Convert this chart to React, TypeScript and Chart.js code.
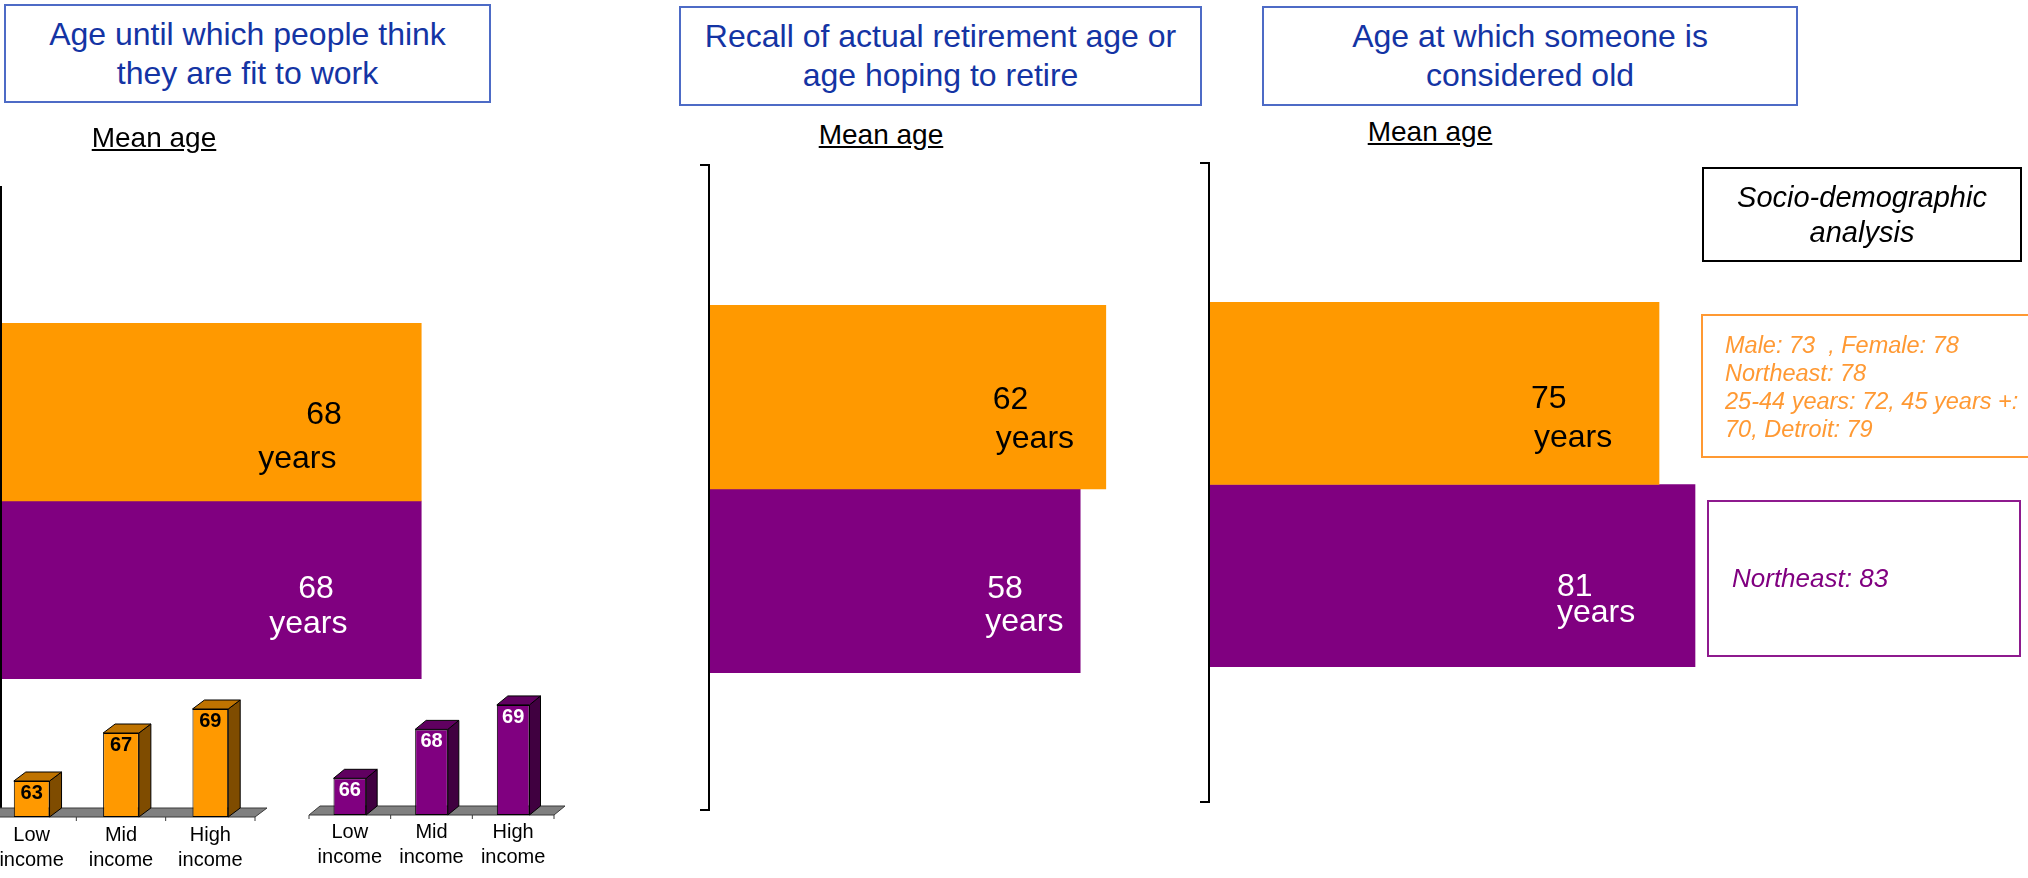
import React, { useEffect, useRef } from 'react';
import { Chart, registerables } from 'chart.js';

Chart.register(...registerables);

const FONT = '"Liberation Sans", Arial, Helvetica, sans-serif';
Chart.defaults.font.family = FONT;

// ---------------- data ----------------
const seriesNames = ['Group 1', 'Group 2'];
const panelTitles = [
  ['Age until which people think', 'they are fit to work'],
  ['Recall of actual retirement age or', 'age hoping to retire'],
  ['Age at which someone is', 'considered old'],
];
const axisCaption = 'Mean age';
const unitLabel = 'years';
const fitToWorkAge = [68, 68];
const retirementAge = [62, 58];
const consideredOldAge = [75, 81];
const incomeCategories = [['Low', 'income'], ['Mid', 'income'], ['High', 'income']];
const incomeFitGroup1 = [63, 67, 69];
const incomeFitGroup2 = [66, 68, 69];
const socioHeading = ['Socio-demographic', 'analysis'];
const socioGroup1Lines = ['Male: 73  , Female: 78', 'Northeast: 78', '25-44 years: 72, 45 years +:', '70, Detroit: 79'];
const socioGroup2Lines = ['Northeast: 83'];

// ---------------- styles ----------------
const ORANGE = '#FF9900';
const PURPLE = '#800080';
const TITLE_BLUE = '#1434A4';
const TITLE_BORDER = '#4d6bc6';

type Box = { left: number; top: number; width: number; height: number };
type LabelPos = { nx: number; ny: number; yx: number; yy: number };

function paddingFor(canvas: Box, plot: Box) {
  return {
    left: plot.left - canvas.left,
    top: plot.top - canvas.top,
    right: canvas.left + canvas.width - (plot.left + plot.width),
    bottom: canvas.top + canvas.height - (plot.top + plot.height),
  };
}

function MeanBars(props: {
  values: number[];
  canvas: Box;
  plot: Box;
  bracket: { up: number; down: number };
  labelPos: LabelPos[];
}) {
  const ref = useRef<HTMLCanvasElement>(null);
  useEffect(() => {
    const { values, canvas, plot, bracket, labelPos } = props;
    const bracketPlugin = {
      id: 'bracket',
      afterDatasetsDraw(chart: any) {
        const { ctx, chartArea: a } = chart;
        ctx.save();
        ctx.strokeStyle = '#000';
        ctx.lineWidth = 2;
        ctx.beginPath();
        ctx.moveTo(a.left - 9, a.top - bracket.up);
        ctx.lineTo(a.left, a.top - bracket.up);
        ctx.lineTo(a.left, a.bottom + bracket.down);
        ctx.lineTo(a.left - 9, a.bottom + bracket.down);
        ctx.stroke();
        ctx.restore();
      },
    };
    const valuePlugin = {
      id: 'valueLabels',
      afterDatasetsDraw(chart: any) {
        const ctx = chart.ctx;
        chart.data.datasets.forEach((ds: any, i: number) => {
          const bar = chart.getDatasetMeta(i).data[0];
          const p = labelPos[i];
          ctx.save();
          ctx.font = `32px ${FONT}`;
          ctx.fillStyle = i === 0 ? '#000000' : '#ffffff';
          ctx.textAlign = 'left';
          ctx.textBaseline = 'alphabetic';
          ctx.fillText(String(ds.data[0]), bar.x + p.nx, bar.y + p.ny);
          ctx.fillText(unitLabel, bar.x + p.yx, bar.y + p.yy);
          ctx.restore();
        });
      },
    };
    const chart = new Chart(ref.current!, {
      type: 'bar',
      data: {
        labels: [axisCaption],
        datasets: [
          { label: seriesNames[0], data: [values[0]], backgroundColor: ORANGE, borderWidth: 0 },
          { label: seriesNames[1], data: [values[1]], backgroundColor: PURPLE, borderWidth: 0 },
        ],
      },
      options: {
        indexAxis: 'y',
        responsive: false,
        animation: false,
        devicePixelRatio: 1,
        layout: { padding: paddingFor(canvas, plot) },
        datasets: { bar: { categoryPercentage: 1, barPercentage: 1 } },
        scales: {
          x: { display: false, min: 0, max: 100 },
          y: { display: false },
        },
        plugins: { legend: { display: false }, tooltip: { enabled: false } },
      },
      plugins: [bracketPlugin, valuePlugin],
    } as any);
    return () => chart.destroy();
  }, []);
  const c = props.canvas;
  return (
    <canvas
      ref={ref}
      width={c.width}
      height={c.height}
      style={{ position: 'absolute', left: c.left, top: c.top, width: c.width, height: c.height }}
    />
  );
}

function IncomeBars(props: {
  values: number[];
  canvas: Box;
  plot: Box;
  min: number;
  max: number;
  depth: { dx: number; dy: number };
  front: string;
  side: string;
  topFace: string;
  valueColor: string;
  tickPadding: number;
}) {
  const ref = useRef<HTMLCanvasElement>(null);
  useEffect(() => {
    const { values, canvas, plot, min, max, depth, front, side, topFace, valueColor, tickPadding } = props;
    const { dx, dy } = depth;
    const axisHeight = canvas.top + canvas.height - (plot.top + plot.height);
    const cubePlugin = {
      id: 'cube3d',
      beforeDatasetsDraw(chart: any) {
        const { ctx, chartArea: a } = chart;
        const n = chart.data.labels.length;
        ctx.save();
        ctx.fillStyle = '#808080';
        ctx.strokeStyle = '#3a3a3a';
        ctx.lineWidth = 1;
        ctx.beginPath();
        ctx.moveTo(a.left, a.bottom);
        ctx.lineTo(a.right, a.bottom);
        ctx.lineTo(a.right + dx, a.bottom - dy);
        ctx.lineTo(a.left + dx, a.bottom - dy);
        ctx.closePath();
        ctx.fill();
        ctx.stroke();
        for (let i = 0; i <= n; i++) {
          const px = a.left + ((a.right - a.left) * i) / n;
          ctx.beginPath();
          ctx.moveTo(px, a.bottom);
          ctx.lineTo(px, a.bottom + 4);
          ctx.stroke();
        }
        ctx.restore();
      },
      afterDatasetsDraw(chart: any) {
        const ctx = chart.ctx;
        const a = chart.chartArea;
        const meta = chart.getDatasetMeta(0);
        meta.data.forEach((el: any, i: number) => {
          const { x, y, width } = el.getProps(['x', 'y', 'width'], true);
          const base = Math.min(el.base, a.bottom);
          const l = x - width / 2;
          const r = x + width / 2;
          ctx.save();
          ctx.strokeStyle = '#000';
          ctx.lineWidth = 1;
          ctx.fillStyle = side;
          ctx.beginPath();
          ctx.moveTo(r, base);
          ctx.lineTo(r, y);
          ctx.lineTo(r + dx, y - dy);
          ctx.lineTo(r + dx, base - dy);
          ctx.closePath();
          ctx.fill();
          ctx.stroke();
          ctx.fillStyle = topFace;
          ctx.beginPath();
          ctx.moveTo(l, y);
          ctx.lineTo(l + dx, y - dy);
          ctx.lineTo(r + dx, y - dy);
          ctx.lineTo(r, y);
          ctx.closePath();
          ctx.fill();
          ctx.stroke();
          ctx.font = `bold 20px ${FONT}`;
          ctx.fillStyle = valueColor;
          ctx.textAlign = 'center';
          ctx.textBaseline = 'alphabetic';
          ctx.fillText(String(chart.data.datasets[0].data[i]), x, y + 18);
          ctx.restore();
        });
      },
    };
    const chart = new Chart(ref.current!, {
      type: 'bar',
      data: {
        labels: incomeCategories,
        datasets: [
          {
            label: axisCaption,
            data: values,
            base: min,
            backgroundColor: front,
            borderColor: '#000',
            borderWidth: 1,
            borderSkipped: false,
            categoryPercentage: 1,
            barPercentage: 0.4,
          },
        ],
      },
      options: {
        responsive: false,
        animation: false,
        devicePixelRatio: 1,
        layout: { padding: { ...paddingFor(canvas, plot), bottom: 0 } },
        scales: {
          y: { display: false, min, max },
          x: {
            grid: { display: false, drawTicks: false },
            border: { display: false },
            ticks: {
              color: '#000',
              font: { size: 20, family: FONT, lineHeight: 1.25 },
              padding: tickPadding,
              maxRotation: 0,
              autoSkip: false,
            },
            afterFit: (scale: any) => {
              scale.height = axisHeight;
            },
          },
        },
        plugins: { legend: { display: false }, tooltip: { enabled: false } },
      },
      plugins: [cubePlugin],
    } as any);
    return () => chart.destroy();
  }, []);
  const c = props.canvas;
  return (
    <canvas
      ref={ref}
      width={c.width}
      height={c.height}
      style={{ position: 'absolute', left: c.left, top: c.top, width: c.width, height: c.height }}
    />
  );
}

function topForBaseline(baseline: number, fs: number, lh: number) {
  return baseline - 0.905 * fs - (lh - 1.117 * fs) / 2;
}

const titleBoxes: Box[] = [
  { left: 4, top: 4, width: 487, height: 99 },
  { left: 679, top: 6, width: 523, height: 100 },
  { left: 1262, top: 6, width: 536, height: 100 },
];
const captionPos = [
  { cx: 154, baseline: 148 },
  { cx: 881, baseline: 145 },
  { cx: 1430, baseline: 142 },
];

export default function App() {
  useEffect(() => {
    document.body.style.margin = '0';
  }, []);

  const h = 700;
  return (
    <div
      style={{
        position: 'relative',
        width: 2028,
        height: 878,
        overflow: 'hidden',
        background: '#fff',
        fontFamily: FONT,
      }}
    >
      <MeanBars
        values={fitToWorkAge}
        canvas={{ left: 0, top: 150, width: 640, height: h }}
        plot={{ left: 1, top: 323, width: 618, height: 356 }}
        bracket={{ up: 136, down: 129 }}
        labelPos={[
          { nx: -115, ny: 11.5, yx: -163, yy: 56 },
          { nx: -123, ny: 7.5, yx: -152, yy: 42.5 },
        ]}
      />
      <MeanBars
        values={retirementAge}
        canvas={{ left: 690, top: 150, width: 680, height: h }}
        plot={{ left: 709, top: 305, width: 640, height: 368 }}
        bracket={{ up: 140, down: 137 }}
        labelPos={[
          { nx: -113, ny: 11.5, yx: -110, yy: 50.5 },
          { nx: -93, ny: 16.5, yx: -95, yy: 49.5 },
        ]}
      />
      <MeanBars
        values={consideredOldAge}
        canvas={{ left: 1190, top: 150, width: 640, height: h }}
        plot={{ left: 1209, top: 302, width: 600, height: 365 }}
        bracket={{ up: 139, down: 135 }}
        labelPos={[
          { nx: -128, ny: 15, yx: -125, yy: 54 },
          { nx: -138, ny: 20.5, yx: -138, yy: 46.5 },
        ]}
      />
      <IncomeBars
        values={incomeFitGroup1}
        canvas={{ left: -20, top: 640, width: 300, height: 238 }}
        plot={{ left: -13, top: 673, width: 268, height: 144 }}
        min={60}
        max={72}
        depth={{ dx: 12, dy: 9 }}
        front={ORANGE}
        side="#7F4C00"
        topFace="#BF7300"
        valueColor="#000"
        tickPadding={6}
      />
      <IncomeBars
        values={incomeFitGroup2}
        canvas={{ left: 300, top: 620, width: 290, height: 258 }}
        plot={{ left: 309, top: 656, width: 245, height: 159 }}
        min={64.5}
        max={71}
        depth={{ dx: 11, dy: 9 }}
        front={PURPLE}
        side="#400040"
        topFace="#600060"
        valueColor="#fff"
        tickPadding={5}
      />

      {titleBoxes.map((b, i) => (
        <div
          key={i}
          style={{
            position: 'absolute',
            left: b.left,
            top: b.top,
            width: b.width,
            height: b.height,
            boxSizing: 'border-box',
            border: `2px solid ${TITLE_BORDER}`,
            background: '#fff',
            display: 'flex',
            flexDirection: 'column',
            alignItems: 'center',
            justifyContent: 'center',
            color: TITLE_BLUE,
            fontSize: 32,
            lineHeight: '39px',
            textAlign: 'center',
            whiteSpace: 'nowrap',
          }}
        >
          {panelTitles[i].map((t, j) => (
            <div key={j}>{t}</div>
          ))}
        </div>
      ))}

      {captionPos.map((c, i) => (
        <div
          key={i}
          style={{
            position: 'absolute',
            left: c.cx - 100,
            width: 200,
            top: topForBaseline(c.baseline, 28, 28),
            fontSize: 28,
            lineHeight: '28px',
            textAlign: 'center',
            color: '#000',
            textDecoration: 'underline',
            textUnderlineOffset: 2,
          }}
        >
          {axisCaption}
        </div>
      ))}

      <div
        style={{
          position: 'absolute',
          left: 1702,
          top: 167,
          width: 320,
          height: 95,
          boxSizing: 'border-box',
          border: '2px solid #000',
          display: 'flex',
          flexDirection: 'column',
          alignItems: 'center',
          justifyContent: 'center',
          fontStyle: 'italic',
          fontSize: 29,
          lineHeight: '35px',
          color: '#000',
          whiteSpace: 'nowrap',
        }}
      >
        {socioHeading.map((t, j) => (
          <div key={j}>{t}</div>
        ))}
      </div>

      <div
        style={{
          position: 'absolute',
          left: 1701,
          top: 314,
          width: 340,
          height: 144,
          boxSizing: 'border-box',
          border: '2px solid #FF9933',
        }}
      />
      <div
        style={{
          position: 'absolute',
          left: 1725,
          top: topForBaseline(353.6, 23.5, 28),
          fontStyle: 'italic',
          fontSize: 23.5,
          lineHeight: '28px',
          color: '#FF9933',
          whiteSpace: 'pre',
        }}
      >
        {socioGroup1Lines.map((t, j) => (
          <div key={j}>{t}</div>
        ))}
      </div>

      <div
        style={{
          position: 'absolute',
          left: 1707,
          top: 500,
          width: 314,
          height: 157,
          boxSizing: 'border-box',
          border: '2px solid #8E1A8E',
        }}
      />
      <div
        style={{
          position: 'absolute',
          left: 1732,
          top: topForBaseline(587, 26, 30),
          fontStyle: 'italic',
          fontSize: 26,
          lineHeight: '30px',
          color: PURPLE,
          whiteSpace: 'pre',
        }}
      >
        {socioGroup2Lines.map((t, j) => (
          <div key={j}>{t}</div>
        ))}
      </div>
    </div>
  );
}
